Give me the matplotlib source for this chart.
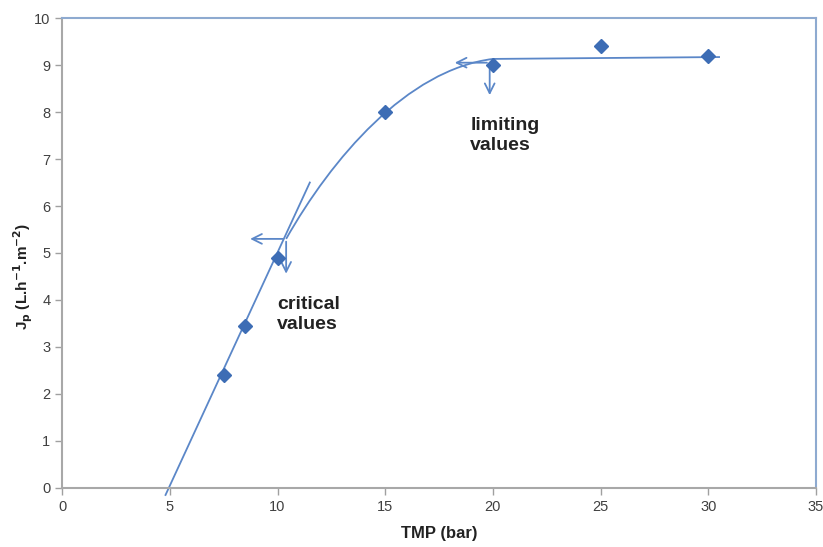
import numpy as np
import matplotlib.pyplot as plt
from matplotlib.path import Path
from matplotlib.patches import PathPatch

# measured points
tmp = [7.5, 8.5, 10, 15, 20, 25, 30]
jp = [2.4, 3.45, 4.9, 8.0, 9.0, 9.4, 9.2]

# hand drawn trend lines
lin_x = [4.8, 11.5]
lin_y = [-0.15, 6.5]
# bend: bezier control points, then the flat part
bend_x = [10.4, 12.5, 16.0, 20.0]
bend_y = [5.3, 7.0, 8.9, 9.13]
flat_x = [20.0, 30.5]
flat_y = [9.13, 9.17]

# arrows (start, end)
crit_pt = (10.4, 5.3)
crit_left = 8.6
crit_down = 4.5
lim_pt = (19.85, 9.05)
lim_left = 18.1
lim_down = 8.3

xticks = [0, 5, 10, 15, 20, 25, 30, 35]
yticks = list(range(0, 11))

line_c = '#5b87c8'
mark_c = '#3d6db5'

plt.rcParams['font.family'] = ['Liberation Sans', 'DejaVu Sans']
plt.rcParams['mathtext.default'] = 'bf'

fig = plt.figure(figsize=(8.23, 5.47), dpi=100)
ax = fig.add_axes([0.0755, 0.108, 0.916, 0.859])

ax.plot(lin_x, lin_y, color=line_c, lw=1.3, clip_on=False)
bend = Path(list(zip(bend_x, bend_y)),
            [Path.MOVETO, Path.CURVE4, Path.CURVE4, Path.CURVE4])
ax.add_patch(PathPatch(bend, fill=False, edgecolor=line_c, lw=1.3))
ax.plot(flat_x, flat_y, color=line_c, lw=1.3)
ax.plot(tmp, jp, linestyle='none', marker='D', ms=7, color=mark_c, zorder=5)

arrow = dict(arrowstyle='->,head_length=0.7,head_width=0.35', color=line_c, lw=1.3)
ax.annotate('', xy=(crit_left, crit_pt[1]), xytext=crit_pt, arrowprops=arrow)
ax.annotate('', xy=(crit_pt[0], crit_down), xytext=crit_pt, arrowprops=arrow)
ax.annotate('', xy=(lim_left, lim_pt[1]), xytext=lim_pt, arrowprops=arrow)
ax.annotate('', xy=(lim_pt[0], lim_down), xytext=lim_pt, arrowprops=arrow)

ax.text(9.98, 4.09, 'critical\nvalues', fontsize=14, fontweight='bold',
        color='#222222', va='top', ha='left', linespacing=1.28)
ax.text(18.95, 7.9, 'limiting\nvalues', fontsize=14, fontweight='bold',
        color='#222222', va='top', ha='left', linespacing=1.28)

ax.set_xlim(0, 35)
ax.set_ylim(0, 10)
ax.set_xticks(xticks)
ax.set_yticks(yticks)
ax.tick_params(direction='out', length=5, width=1, color='#a0a0a0',
               labelsize=10.5, labelcolor='#404040')

for s in ['left', 'bottom']:
    ax.spines[s].set_color('#a8a8a8')
    ax.spines[s].set_linewidth(1.5)
for s in ['top', 'right']:
    ax.spines[s].set_color('#8eaad0')
    ax.spines[s].set_linewidth(1.5)

ax.set_xlabel('TMP (bar)', fontsize=12, fontweight='bold', color='#222222', labelpad=9)
ax.set_ylabel(r'J$_p$ (L.h$^{-1}$.m$^{-2}$)', fontsize=11, fontweight='bold',
              color='#222222')
ax.yaxis.set_label_coords(-0.036, 0.45)

fig.savefig('out.png', dpi=100)
